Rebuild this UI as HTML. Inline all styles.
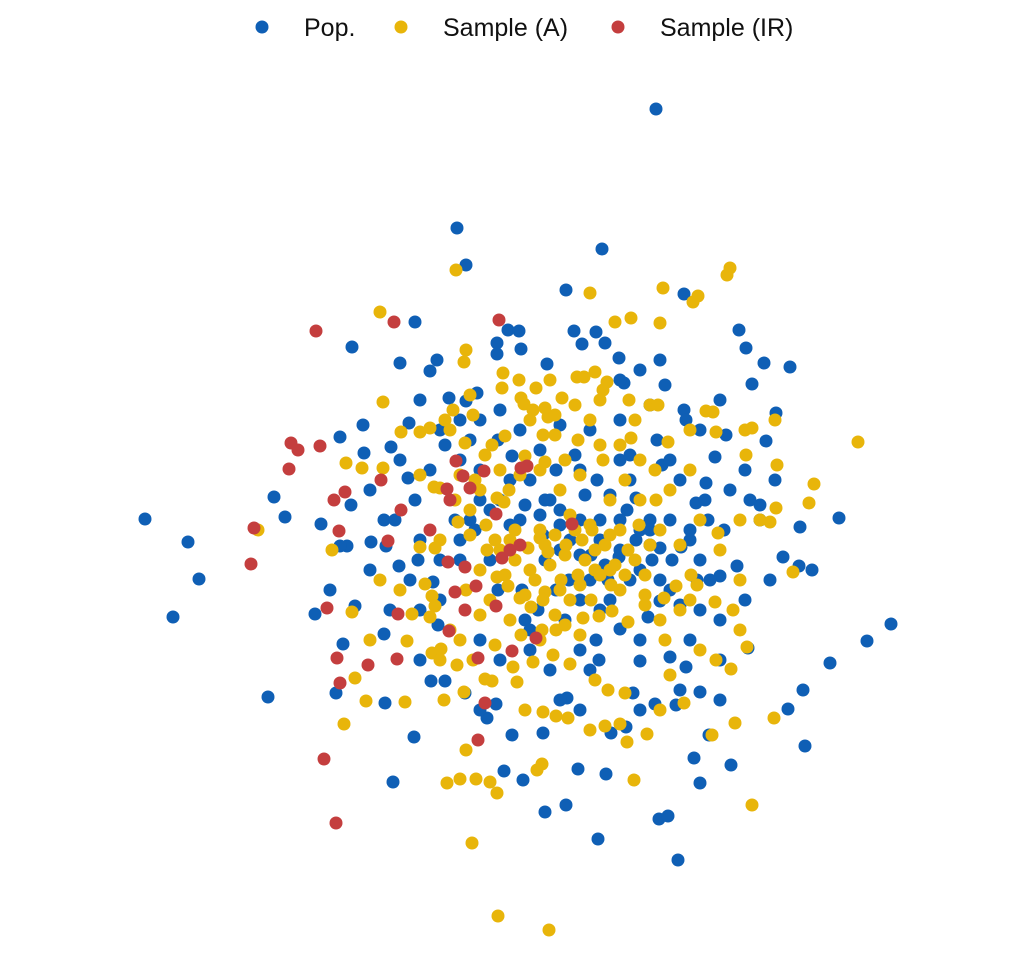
<!DOCTYPE html>
<html><head><meta charset="utf-8"><style>
html,body{margin:0;padding:0;background:#fff;}
svg{display:block;font-family:"Liberation Sans",sans-serif;}
</style></head><body>
<svg id="chart" width="1036" height="972">
<g id="legend">
<g><circle cx="262" cy="27" r="6.5" fill="#0f5fb5"/><text x="304" y="36" font-size="25" fill="#111">Pop.</text></g>
<g><circle cx="401" cy="27" r="6.5" fill="#e8b50a"/><text x="443" y="36" font-size="25" fill="#111">Sample (A)</text></g>
<g><circle cx="618" cy="27" r="6.5" fill="#c43e3e"/><text x="660" y="36" font-size="25" fill="#111">Sample (IR)</text></g>
</g>
<g id="marks"></g>
</svg>
<script>
const popX=[136,-63,-54,82,46,-375,-332,-321,-347,-252,371,347,319,285,158,78,25,46,139,148,-127,-106,-168,-105,-120,-83,-90,164,219,226,244,270,232,256,246,280,263,279,292,310,283,268,228,180,211,174,189,86,58,3,-16,-8,23,-89,-135,-184,-177,-136,-165,-205,-190,-246,-235,-199,-173,-180,-169,-156,-157,-180,-111,-129,-112,-136,-149,-134,-121,-87,-100,-82,-75,-55,-33,-24,47,60,91,106,135,156,180,166,150,120,113,79,76,100,128,140,160,177,200,217,204,188,176,186,195,206,164,166,137,142,130,116,99,88,71,60,40,25,10,-8,-22,-40,-54,-71,-43,-23,1,27,54,62,76,85,99,104,120,-12,-1,-23,20,36,77,90,107,120,140,152,161,49,36,18,2,-22,-40,-20,10,60,30,40,23,0,-20,-50,-60,-80,-100,-105,-90,-75,-50,0,70,100,130,180,225,240,225,240,255,110,80,45,120,170,200,180,5,25,80,100,160,-60,-80,-40,-10,5,55,145,116,132,90,70,140,60,160,200,185,-40,-30,-65,-102,-125,80,100,130,150,170,180,120,40,20,65,
50,85,100,60,110,130,150,170,190,210,150,110,60,30,-10,-30,-45,-60,-80,-110,-130,-120,-100,-60,-20,40,100,140,200,230,250,200,120,40,-40,-100,-150,-150,10,70];
const popY=[411,292,255,271,230,1,-22,-59,-97,-177,-104,-121,2,-226,-340,-319,-292,-285,-299,-296,-262,-217,173,198,157,160,149,226,190,172,157,153,136,107,79,-7,-37,-46,-50,-143,-170,-189,-128,-263,-245,-238,-215,-254,-249,-260,-251,-215,-213,-161,-183,-173,-124,-114,-86,-94,-70,23,3,-4,-26,-26,15,67,95,83,97,73,42,0,-22,-26,-46,-62,-90,-105,-161,-173,-198,-184,-178,-190,-213,-207,-184,-185,-172,-147,-137,-141,-173,-140,-120,-109,-97,-81,-85,-60,-56,-46,-10,0,17,37,63,85,110,100,80,55,0,-20,-37,-60,-35,0,10,20,40,64,80,100,119,122,127,166,171,156,189,176,188,177,162,137,150,190,189,177,70,50,40,25,10,-10,-28,-40,-27,-60,-70,-90,-70,-70,-120,-140,-130,-130,-150,-30,-15,0,20,0,-20,-40,-20,20,50,75,80,90,90,100,115,90,50,15,-80,0,40,40,-90,-100,-120,-120,-100,-90,-100,-40,0,60,40,60,90,50,40,15,65,135,22,-40,-80,-60,-60,-80,-170,-140,20,20,-40,0,-40,0,-20,0,-25,0,-10,-40,-50,-5,5,25,
-20,-45,-30,-35,-60,-10,-70,-20,-60,30,60,65,50,20,-5,10,-10,-40,-80,-60,-90,60,120,100,110,95,140,160,120,20,-60,-180,-190,-180,-190,-140,-50,30,-110,-150];
const sampAX=[-22,29,-48,232,114,-73,-60,-44,-30,-23,17,22,-54,-176,-154,-115,-165,-88,-79,-113,-168,-108,-85,-90,-140,-64,210,207,143,70,173,178,111,95,140,338,294,273,289,256,240,257,226,225,232,255,193,186,196,170,148,130,138,109,83,87,57,64,75,42,35,1,4,13,28,23,-15,-28,-55,-47,-54,-56,-17,25,35,58,45,20,0,-11,-23,-16,-34,-25,-10,8,20,28,46,62,72,85,90,108,119,136,150,170,180,198,220,250,220,213,195,220,227,211,196,215,192,254,164,140,127,107,100,85,70,48,36,23,5,-3,-7,-35,-28,-63,-56,-76,-47,-25,1,22,36,45,63,79,92,108,125,140,145,160,177,171,156,144,125,100,91,75,58,41,25,11,0,-12,-23,-40,-54,-88,-95,-80,-85,-100,-65,-80,-86,-100,-100,-90,-119,-137,-137,-174,-158,-188,-262,33,50,75,88,105,13,23,35,50,71,10,-5,-20,-33,-50,-62,-50,-40,-20,5,25,40,60,83,100,111,120,90,105,135,80,70,55,16,-1,-18,-50,-67,-75,80,120,140,160,90,
20,35,45,55,65,75,30,15,40,60,80,95,105,115,125,70,50,100,130,25,-5,-15,5,-30,-40,-10,20,60,-60,-70,-80,-45,-60,-35,-70,10,30,115,170,200,180,150,-120,-140,-150];
const sampAY=[-396,-410,-323,-285,-260,-263,-259,-259,-262,-273,-250,-244,-230,-204,-181,-182,-158,-133,-129,-121,-92,-94,-86,-97,208,250,252,245,232,227,218,224,202,198,197,78,36,-52,17,12,0,55,65,90,92,100,108,109,88,90,78,115,115,120,130,138,143,143,148,122,105,122,116,110,103,85,84,75,77,105,170,158,147,112,85,80,60,50,45,30,22,18,-5,-20,-20,-28,-18,-32,-25,-20,-10,-25,-15,-30,-5,20,30,50,0,-13,0,-2,-60,-90,-82,-110,-127,-149,-140,-203,-215,-198,-183,-190,-214,-222,-204,-206,-210,-198,-196,-192,-190,-162,-147,-159,-161,-145,-172,-180,-140,-125,-115,-110,-110,-105,-98,-96,-91,-102,-85,-100,-120,-90,-65,-55,-66,-78,-75,-70,-65,-50,-55,-60,-72,-87,-78,-66,-57,-50,-70,-76,-64,-20,-28,-27,20,32,33,45,88,92,88,118,52,57,52,-30,-10,-135,-144,-160,-170,-173,-142,-80,-95,-80,-80,-50,-40,-30,-30,-15,-2,10,30,50,64,58,30,45,60,75,82,60,20,40,50,75,100,115,132,140,132,125,110,100,120,20,-10,-25,-50,
-10,-15,-35,-10,-40,-30,-45,-60,-70,-65,-55,-45,-55,-40,-55,-5,5,-10,-25,-25,-10,-55,-75,-80,-95,-100,-120,-115,-120,-110,-140,40,45,65,90,100,140,100,-80,-30,-130,-155,-70,-60,-120];
const irX=[-204,-126,-21,-229,-222,-200,-231,-175,-186,-181,-139,-266,-269,-193,-122,-119,-132,-90,-73,-64,-57,-36,-70,-50,-24,-10,-18,0,1,7,52,-72,-55,-65,-55,-44,-24,-71,-42,-8,16,-183,-152,-123,-180,-35,-42,-196,-184];
const irY=[189,198,200,77,70,74,51,28,20,-11,40,-8,-44,-88,-94,10,-21,-10,31,59,44,49,20,32,6,-30,-38,-25,52,54,-4,-42,-47,-72,-90,-66,-86,-111,-138,-131,-118,-138,-145,-139,-163,-183,-220,-239,-303];

const xDomain=[-520,516], xRange=[0,1036];
const yDomain=[-452,520], yRange=[972,0];
function xScale(v){return xRange[0]+(v-xDomain[0])/(xDomain[1]-xDomain[0])*(xRange[1]-xRange[0]);}
function yScale(v){return yRange[0]+(v-yDomain[0])/(yDomain[1]-yDomain[0])*(yRange[1]-yRange[0]);}

const NS="http://www.w3.org/2000/svg";
const marks=document.getElementById('marks');
function drawSeries(xs,ys,color,name){
  const g=document.createElementNS(NS,'g');
  
  
  for(let i=0;i<xs.length;i++){
    const c=document.createElementNS(NS,'circle');
    c.setAttribute('cx',xScale(xs[i]));
    c.setAttribute('cy',yScale(ys[i]));
    c.setAttribute('r',6.5);
    c.setAttribute('fill',color);
    
    
    g.appendChild(c);
  }
  marks.appendChild(g);
}
drawSeries(popX,popY,'#0f5fb5','pop');
drawSeries(sampAX,sampAY,'#e8b50a','sample-a');
drawSeries(irX,irY,'#c43e3e','sample-ir');
</script>
</body></html>
